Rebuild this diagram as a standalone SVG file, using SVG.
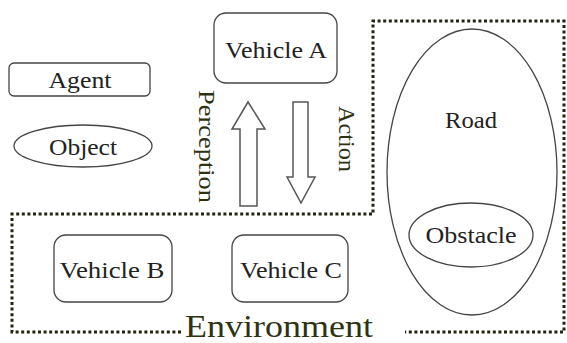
<svg xmlns="http://www.w3.org/2000/svg" width="567" height="343" viewBox="0 0 567 343">
<style>
.box{fill:#fff;stroke:#444;stroke-width:1.3}
.t{font-size:24px;fill:#222;text-anchor:middle}
.o{fill:#2f3212}
.arr{fill:#fff;stroke:#555;stroke-width:1.5;stroke-linejoin:miter}
.env{fill:none;stroke:#23240f;stroke-width:3;stroke-dasharray:3 2.6}
</style>
<rect width="567" height="343" fill="#fff"/>
<g font-family="Liberation Serif, DejaVu Serif, Times New Roman, serif">
<g id="environment">
<path class="env" d="M181,332 H12 V214 H373 V21 H564 V332 H405"/>
<text class="o" x="185" y="337" font-size="31" textLength="188" lengthAdjust="spacingAndGlyphs">Environment</text>
</g>
<g id="agent-legend">
<rect class="box" x="9" y="63" width="141" height="33" rx="5"/>
<text class="t" x="80" y="88" textLength="63" lengthAdjust="spacingAndGlyphs">Agent</text>
</g>
<g id="object-legend">
<ellipse class="box" cx="83" cy="146" rx="69" ry="21"/>
<text class="t" x="83" y="155" textLength="68" lengthAdjust="spacingAndGlyphs">Object</text>
</g>
<g id="vehicle-a">
<rect class="box" x="214" y="13" width="123" height="70" rx="12"/>
<text class="t" x="276" y="58" textLength="102" lengthAdjust="spacingAndGlyphs">Vehicle A</text>
</g>
<g id="vehicle-b">
<rect class="box" x="54" y="235" width="118" height="67" rx="12"/>
<text class="t" x="112" y="278" textLength="105" lengthAdjust="spacingAndGlyphs">Vehicle B</text>
</g>
<g id="vehicle-c">
<rect class="box" x="232" y="235" width="116" height="67" rx="12"/>
<text class="t" x="291" y="278" textLength="102" lengthAdjust="spacingAndGlyphs">Vehicle C</text>
</g>
<g id="road">
<ellipse class="box" cx="472" cy="172" rx="85" ry="143"/>
<text class="t" x="471" y="128" textLength="52" lengthAdjust="spacingAndGlyphs">Road</text>
</g>
<g id="obstacle">
<ellipse class="box" cx="471" cy="235" rx="62" ry="32"/>
<text class="t" x="471" y="243" textLength="91" lengthAdjust="spacingAndGlyphs">Obstacle</text>
</g>
<g id="connectors">
<g id="perception">
<path class="arr" d="M248,102 L265,129 L257,129 L257,206 L240,206 L240,129 L232,129 Z"/>
<text class="o" font-size="24" transform="translate(199,90) rotate(90)" textLength="113" lengthAdjust="spacingAndGlyphs">Perception</text>
</g>
<g id="action">
<path class="arr" d="M293,102 L308,102 L308,177 L315,177 L301,203 L287,177 L293,177 Z"/>
<text class="o" font-size="24" transform="translate(339,106) rotate(90)" textLength="66" lengthAdjust="spacingAndGlyphs">Action</text>
</g>
</g>
</g>
</svg>
